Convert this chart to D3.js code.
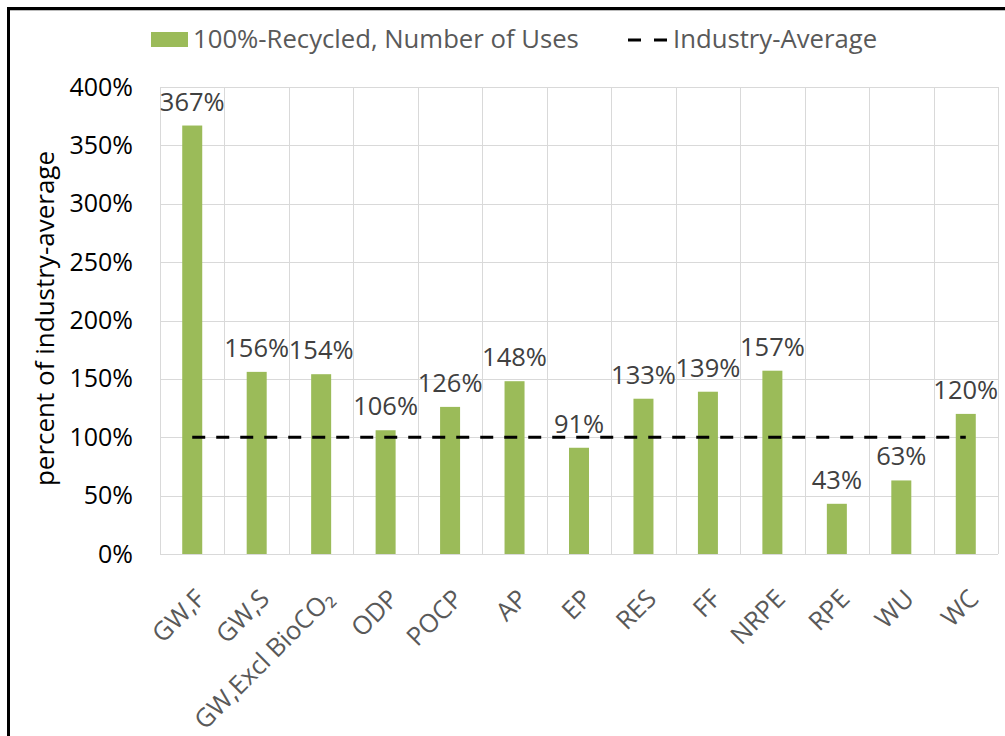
<!DOCTYPE html>
<html>
<head>
<meta charset="utf-8">
<script src="https://cdn.jsdelivr.net/npm/d3@7"></script>
<style>
  body { margin: 0; background: #fff; }
  svg { display: block; font-family: "Open Sans", "Noto Sans", sans-serif; }
</style>
</head>
<body>
<div id="chart"></div>
<script>
// chart data
var categories = ["GW,F", "GW,S", "GW,Excl BioCO\u2082", "ODP", "POCP", "AP", "EP", "RES", "FF", "NRPE", "RPE", "WU", "WC"];
var recycled = [367, 156, 154, 106, 126, 148, 91, 133, 139, 157, 43, 63, 120];
var industryAvg = [100, 100, 100, 100, 100, 100, 100, 100, 100, 100, 100, 100, 100];
var yTicks = [0, 50, 100, 150, 200, 250, 300, 350, 400];
var seriesNames = ["100%-Recycled, Number of Uses", "Industry-Average"];

var width = 1005, height = 736;
var margin = {top: 87, right: 7, bottom: 182, left: 160};
var innerW = width - margin.left - margin.right,
    innerH = height - margin.top - margin.bottom;

var svg = d3.select("#chart").append("svg")
    .attr("width", width).attr("height", height);

// outer frame (runs off the right and bottom edge)
svg.append("path")
    .attr("d", "M8.5,760 L8.5,8.5 L1020,8.5")
    .attr("fill", "none").attr("stroke", "#000").attr("stroke-width", 3);
svg.append("line")
    .attr("x1", 10).attr("x2", 1010).attr("y1", 10.5).attr("y2", 10.5)
    .attr("stroke", "#bbb").attr("stroke-width", 1);

var g = svg.append("g").attr("transform", "translate(" + margin.left + "," + margin.top + ")");

var x = d3.scaleBand().domain(categories).range([0, innerW]).paddingInner(0).paddingOuter(0);
var y = d3.scaleLinear().domain([0, 400]).range([innerH, 0]);

// horizontal gridlines
g.append("g").selectAll("line").data(yTicks).join("line")
    .attr("x1", 0).attr("x2", innerW)
    .attr("y1", d => Math.round(y(d)) + 0.5).attr("y2", d => Math.round(y(d)) + 0.5)
    .attr("stroke", "#d9d9d9").attr("stroke-width", 1);

// vertical gridlines at band edges
var edges = categories.map(c => x(c)).concat([innerW]);
g.append("g").selectAll("line").data(edges).join("line")
    .attr("x1", d => Math.round(d) + 0.5).attr("x2", d => Math.round(d) + 0.5)
    .attr("y1", 0).attr("y2", innerH)
    .attr("stroke", "#d9d9d9").attr("stroke-width", 1);

// y axis labels
var yAxis = d3.axisLeft(y).tickValues(yTicks).tickSize(0).tickPadding(27)
    .tickFormat(d => d + "%");
g.append("g").call(yAxis)
    .call(s => s.select(".domain").remove())
    .selectAll("text")
    .attr("font-size", 25).attr("fill", "#000").attr("font-family", "Open Sans");

// bars
var barW = 20;
g.append("g").selectAll("rect").data(recycled).join("rect")
    .attr("x", (d, i) => x(categories[i]) + x.bandwidth() / 2 - barW / 2)
    .attr("y", d => y(d))
    .attr("width", barW)
    .attr("height", d => innerH - y(d))
    .attr("fill", "#9bbb59");

// industry average dashed line
var line = d3.line()
    .x((d, i) => x(categories[i]) + x.bandwidth() / 2)
    .y(d => y(d));
g.append("path").datum(industryAvg)
    .attr("d", line)
    .attr("fill", "none").attr("stroke", "#000")
    .attr("stroke-width", 3.2).attr("stroke-dasharray", "13,11");

// data labels
g.append("g").selectAll("text").data(recycled).join("text")
    .attr("x", (d, i) => x(categories[i]) + x.bandwidth() / 2)
    .attr("y", d => y(d) - 15)
    .attr("text-anchor", "middle")
    .attr("font-size", 25.5).attr("fill", "#404040")
    .text(d => d + "%");

// x category labels
g.append("g").selectAll("text").data(categories).join("text")
    .attr("transform", d => "translate(" + (x(d) + x.bandwidth() / 2 + 8) + "," + (innerH + 40) + ") rotate(-45)")
    .attr("text-anchor", "end")
    .attr("dy", "0.35em")
    .attr("font-size", 25.5).attr("fill", "#595959")
    .text(d => d);

// y axis title
svg.append("text")
    .attr("transform", "translate(54," + (margin.top + innerH / 2 - 2) + ") rotate(-90)")
    .attr("text-anchor", "middle")
    .attr("font-size", 26).attr("fill", "#000")
    .text("percent of industry-average");

// legend
var leg = svg.append("g");
leg.append("rect").attr("x", 151).attr("y", 32).attr("width", 37).attr("height", 15).attr("fill", "#9bbb59");
leg.append("text").attr("x", 193).attr("y", 48).attr("font-size", 25.7).attr("fill", "#595959").text(seriesNames[0]);
leg.append("line").attr("x1", 628).attr("x2", 667).attr("y1", 40).attr("y2", 40)
    .attr("stroke", "#000").attr("stroke-width", 3.2).attr("stroke-dasharray", "13,13");
leg.append("text").attr("x", 673).attr("y", 48).attr("font-size", 25.7).attr("fill", "#595959").text(seriesNames[1]);
</script>
</body>
</html>
